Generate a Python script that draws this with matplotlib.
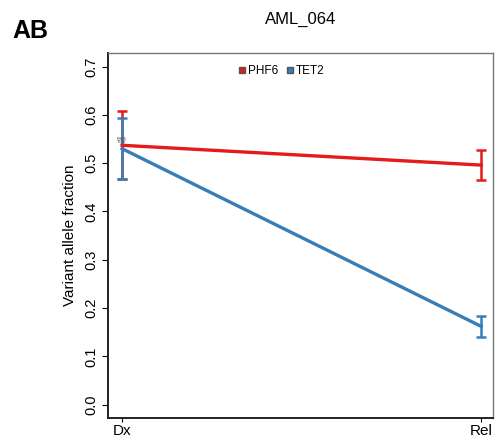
import matplotlib
matplotlib.use("Agg")
import matplotlib.pyplot as plt
from matplotlib.lines import Line2D

plt.rcParams["font.family"] = ["Liberation Sans", "DejaVu Sans"]

# variant allele fractions at diagnosis and relapse
timepoints = ["Dx", "Rel"]
genes = ["PHF6", "TET2"]
vaf = {
    "PHF6": [0.537, 0.496],
    "TET2": [0.530, 0.162],
}
err = {
    "PHF6": [0.070, 0.031],
    "TET2": [0.063, 0.022],
}
colors = {"PHF6": "#E41A1C", "TET2": "#377EB8"}

fig = plt.figure(figsize=(4.98, 4.42), dpi=100)
ax = fig.add_axes([0.217, 0.054, 0.773, 0.826])

x = [1, 2]
for g in genes:
    ax.errorbar(x, vaf[g], yerr=err[g], color=colors[g], lw=2.4,
                elinewidth=1.8, capsize=3.5, capthick=1.8, zorder=3)

# tiny gene labels at the first time point
ax.text(1.0, vaf["PHF6"][0] + 0.012, "PHF6", fontsize=2.8, color="#444444",
        ha="center", va="center", zorder=4)
ax.text(1.0, vaf["TET2"][0] + 0.013, "TET2", fontsize=2.8, color="#444444",
        ha="center", va="center", zorder=4)

ax.set_xlim(0.961, 2.033)
ax.set_ylim(-0.028, 0.728)
ax.set_xticks(x)
ax.set_xticklabels(timepoints, fontsize=11)
ax.set_yticks([0.0, 0.1, 0.2, 0.3, 0.4, 0.5, 0.6, 0.7])
ax.set_yticklabels(["0.0", "0.1", "0.2", "0.3", "0.4", "0.5", "0.6", "0.7"],
                   rotation=90, va="center", fontsize=10.5)
ax.tick_params(axis="y", length=4, width=0.8, pad=3)
ax.tick_params(axis="x", length=3, width=0.8, pad=1)
ax.set_ylabel("Variant allele fraction", fontsize=11, labelpad=5)

for side in ["left", "bottom"]:
    ax.spines[side].set_linewidth(1.4)
    ax.spines[side].set_color("#222222")
for side in ["top", "right"]:
    ax.spines[side].set_linewidth(1.0)
    ax.spines[side].set_color("#777777")

handles = [Line2D([], [], marker="s", ls="", color=colors[g],
                  markeredgecolor="#555555", markersize=4.5) for g in genes]
ax.legend(handles, genes, loc="upper center", bbox_to_anchor=(0.45, 0.995),
          ncol=2, frameon=False, fontsize=8.5, handletextpad=0.1,
          columnspacing=0.6, handlelength=0.8)

fig.text(0.603, 0.957, "AML_064", fontsize=12, ha="center", va="center")
fig.text(0.025, 0.93, "AB", fontsize=18, fontweight="bold", ha="left",
         va="center")

fig.savefig("out.png", dpi=100)
